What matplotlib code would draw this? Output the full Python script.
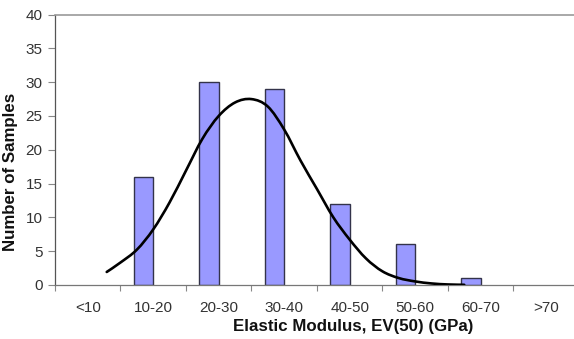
import matplotlib
matplotlib.use("Agg")
import matplotlib.pyplot as plt
from matplotlib.ticker import FixedLocator, NullFormatter
from matplotlib.path import Path
from matplotlib.patches import PathPatch

plt.rcParams['font.family'] = ['Liberation Sans', 'DejaVu Sans']

categories = ['<10', '10-20', '20-30', '30-40', '40-50', '50-60', '60-70', '>70']
counts = [0, 16, 30, 29, 12, 6, 1, 0]

# fitted curve (x in GPa, y in number of samples)
curve_gpa = [7.9, 10.0, 12.5, 15.0, 17.5, 20.0, 22.5, 25.0, 27.5, 30.0, 32.5, 35.0,
             37.5, 40.0, 42.5, 45.0, 47.5, 50.0, 52.5, 55.0, 57.5, 60.0, 62.5]
curve_val = [1.9, 3.3, 5.2, 8.2, 12.2, 16.9, 21.6, 25.0, 27.0, 27.5, 26.4, 23.0,
             18.4, 14.2, 10.0, 6.7, 3.9, 2.0, 1.0, 0.5, 0.2, 0.05, 0.0]

yticks = [0, 5, 10, 15, 20, 25, 30, 35, 40]

fig = plt.figure(figsize=(5.74, 3.39), dpi=100)
W, H = 574, 339
left, right, top, bottom = 55, 578.8, 14.7, 284.8
ax = fig.add_axes([left / W, (H - bottom) / H, (right - left) / W, (bottom - top) / H])

bw = 0.297
xs = [i + 0.5 - bw for i in range(len(categories))]
edge = ['#33334a' if c > 0 else 'none' for c in counts]
ax.bar(xs, counts, width=bw, align='edge', color='#9999ff',
       edgecolor=edge, linewidth=1.0, zorder=2)

# smoothed line (Bezier through the read points, like a spreadsheet "smoothed line")
px = [g / 10 for g in curve_gpa]
py = curve_val
verts = [(px[0], py[0])]
codes = [Path.MOVETO]
n = len(px)
t = 1.0 / 6.0
for i in range(n - 1):
    p0 = (px[i - 1], py[i - 1]) if i > 0 else (px[i], py[i])
    p1 = (px[i], py[i])
    p2 = (px[i + 1], py[i + 1])
    p3 = (px[i + 2], py[i + 2]) if i + 2 < n else p2
    c1 = (p1[0] + (p2[0] - p0[0]) * t, p1[1] + (p2[1] - p0[1]) * t)
    c2 = (p2[0] - (p3[0] - p1[0]) * t, p2[1] - (p3[1] - p1[1]) * t)
    verts += [c1, c2, p2]
    codes += [Path.CURVE4] * 3
ax.add_patch(PathPatch(Path(verts, codes), facecolor='none', edgecolor='black',
                       lw=1.9, capstyle='round', zorder=3))

ax.set_xlim(0, len(categories))
ax.set_ylim(0, 40)

ax.xaxis.set_major_locator(FixedLocator(list(range(len(categories) + 1))))
ax.xaxis.set_major_formatter(NullFormatter())
ax.xaxis.set_minor_locator(FixedLocator([i + 0.5 for i in range(len(categories))]))
ax.set_xticklabels(categories, minor=True)
ax.tick_params(axis='x', which='major', length=4, width=0.8, color='#888888', direction='out')
ax.tick_params(axis='x', which='minor', length=0, pad=12, labelsize=11, labelcolor='#333333')

ax.set_yticks(yticks)
ax.tick_params(axis='y', length=5, width=0.8, color='#888888', labelsize=11,
               labelcolor='#333333', pad=4)

ax.spines['right'].set_visible(False)
ax.spines['top'].set_color('#999999')
ax.spines['top'].set_linewidth(1.2)
ax.spines['left'].set_color('#555555')
ax.spines['bottom'].set_color('#777777')
ax.spines['left'].set_linewidth(0.9)
ax.spines['bottom'].set_linewidth(0.9)

fig.text(353 / W, (H - 326) / H, 'Elastic Modulus, EV(50) (GPa)', ha='center', va='center',
         fontsize=12.2, fontweight='bold', color='#111111')
fig.text(11 / W, (H - 172) / H, 'Number of Samples', ha='center', va='center', rotation=90,
         fontsize=12.2, fontweight='bold', color='#111111')

fig.savefig('out.png', dpi=100)
